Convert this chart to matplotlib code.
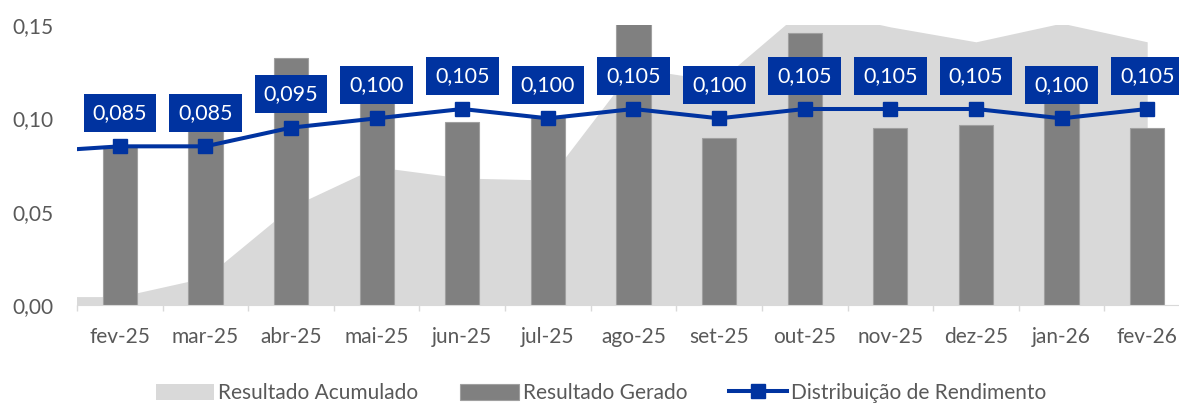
import numpy as np
import matplotlib
matplotlib.use("Agg")
from matplotlib import pyplot as plt
from matplotlib.ticker import FuncFormatter, FixedLocator

plt.rcParams['font.family'] = ['Lato', 'DejaVu Sans']

meses = ['fev-25', 'mar-25', 'abr-25', 'mai-25', 'jun-25', 'jul-25', 'ago-25',
         'set-25', 'out-25', 'nov-25', 'dez-25', 'jan-26', 'fev-26']

# acumulado e distribuicao comecam em jan-25 (fica fora do eixo, so aparece a ponta)
acumulado = [0.0045, 0.0045, 0.0147, 0.0525, 0.074, 0.068, 0.067, 0.127,
             0.120, 0.159, 0.149, 0.141, 0.151, 0.141]
gerado = [0.085, 0.093, 0.1324, 0.110, 0.0982, 0.101, 0.152, 0.0895,
          0.1456, 0.0947, 0.0965, 0.108, 0.095]
distribuicao = [0.082, 0.085, 0.085, 0.095, 0.100, 0.105, 0.100, 0.105,
                0.100, 0.105, 0.105, 0.105, 0.100, 0.105]

azul = '#0033A0'
cinza_txt = '#595959'

fig = plt.figure(figsize=(11.79, 4.04), dpi=100)
ax = fig.add_axes([77/1179, 99/404, (1190-77)/1179, 280/404])

x = np.arange(len(meses))
x_ext = np.arange(-1, len(meses))

area = ax.fill_between(x_ext, acumulado, 0, color='#d9d9d9', linewidth=0, zorder=1,
                       label='Resultado Acumulado')
barras = ax.bar(x, gerado, width=0.4, color='#808080', edgecolor='#a0a0a0', linewidth=0.8,
                zorder=2, label='Resultado Gerado')
linha, = ax.plot(x_ext, distribuicao, color=azul, lw=2.9, marker='s', markersize=10.5,
                 zorder=3, label='Distribuição de Rendimento')

for xi, v in zip(x, distribuicao[1:]):
    ax.annotate(f'{v:.3f}'.replace('.', ','), (xi, v), xytext=(0, 24),
                textcoords='offset points', ha='center', va='center',
                color='white', fontsize=15.5, zorder=5,
                bbox=dict(boxstyle='square,pad=0.42', fc=azul, ec='none'))

ax.set_xlim(-0.5, len(meses) - 0.5)
ax.set_ylim(0, 0.15)
ax.set_yticks([0, 0.05, 0.10, 0.15])
ax.yaxis.set_major_formatter(FuncFormatter(lambda v, p: f'{v:.2f}'.replace('.', ',')))
ax.set_xticks(x)
ax.set_xticklabels(meses)
ax.xaxis.set_minor_locator(FixedLocator(np.arange(-0.5, len(meses), 1)))
ax.tick_params(axis='x', which='major', length=0, pad=16, labelsize=15, labelcolor=cinza_txt)
ax.tick_params(axis='x', which='minor', length=4.5, width=1, color='#d9d9d9')
ax.tick_params(axis='y', length=0, pad=17, labelsize=15, labelcolor=cinza_txt)

for s in ['top', 'right', 'left']:
    ax.spines[s].set_visible(False)
ax.spines['bottom'].set_color('#d9d9d9')
ax.spines['bottom'].set_zorder(4)

fig.legend(handles=[area, barras, linha], loc='center', bbox_to_anchor=(0.51, 0.027),
           ncol=3, frameon=False, fontsize=15, labelcolor=cinza_txt, handlelength=2.8,
           handleheight=0.8, handletextpad=0.2, columnspacing=2.0)

fig.savefig('out.png', dpi=100)
